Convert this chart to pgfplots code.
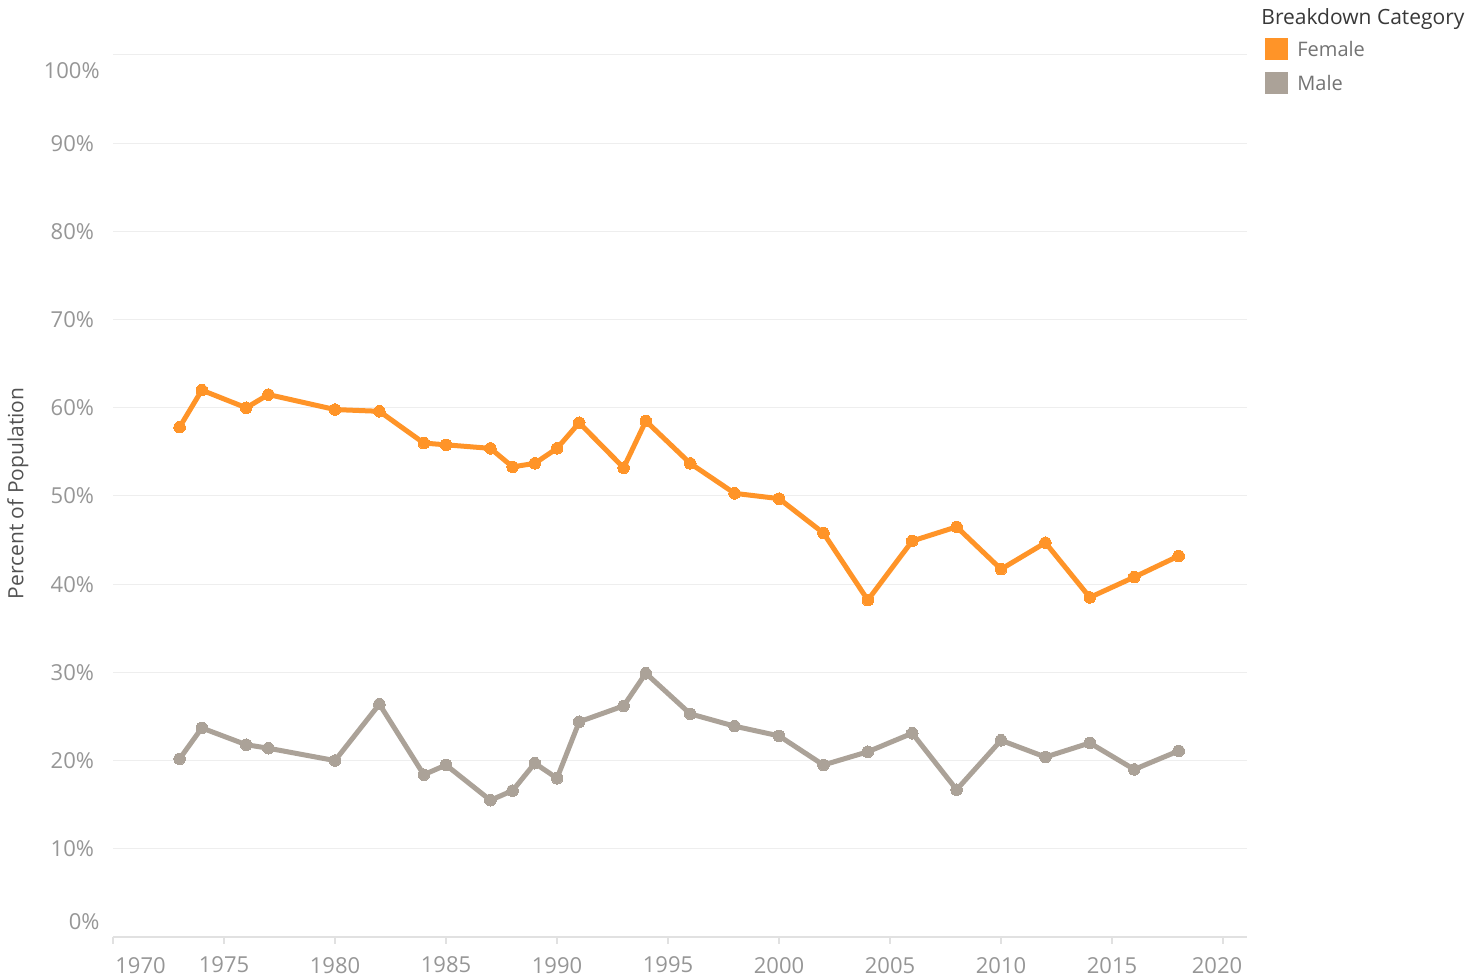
\documentclass[border=0pt]{standalone}
\usepackage{pgfplots}
\pgfplotsset{compat=1.18}
\usepackage{fontspec}
\setmainfont{Open Sans}
\definecolor{femc}{RGB}{255,148,40}
\definecolor{malec}{RGB}{171,162,152}
\definecolor{tickc}{RGB}{150,150,150}
\definecolor{gridc}{RGB}{238,238,238}
\definecolor{axc}{RGB}{225,225,225}
\begin{document}
\begin{tikzpicture}
\useasboundingbox (0,0) rectangle (740pt,489pt);
\begin{axis}[
  at={(56.5pt,20.5pt)}, anchor=south west,
  scale only axis, width=567pt, height=441pt,
  xmin=1970, xmax=2021.08, ymin=0, ymax=100,
  clip=false,
  axis x line*=bottom, axis y line*=left,
  x axis line style={draw=axc, line width=0.6pt, -},
  y axis line style={draw=none},
  xtick={1970,1975,...,2020},
  xticklabels={,1975,1980,1985,1990,1995,2000,2005,2010,2015,},
  x tick style={draw=axc, line width=0.6pt},
  tick align=outside, major tick length=3.5pt,
  ytick={0,10,...,100},
  yticklabels={,10\%,20\%,30\%,40\%,50\%,60\%,70\%,80\%,90\%,},
  y tick style={draw=none},
  ymajorgrids, grid style={draw=gridc, line width=0.5pt},
  tick label style={font=\fontsize{11}{13}\selectfont, text=tickc},
  /pgf/number format/assume math mode=true,
  xticklabel style={yshift=-3pt},
  yticklabel style={xshift=-2.5pt},
  ylabel={Percent of Population},
  ylabel style={at={(axis description cs:-0.0838,0.503)}, anchor=center, rotate=0,
    font=\fontsize{10.5}{12}\selectfont, text=black!68},
  every axis plot/.append style={line width=2.5pt, mark=*, mark size=2.9pt, line join=round},
]
\addplot[color=femc, mark options={fill=femc, draw=femc, line width=0pt}] coordinates {
(1973,57.8)(1974,62.0)(1976,60.0)(1977,61.5)(1980,59.8)(1982,59.6)(1984,56.0)(1985,55.8)
(1987,55.4)(1988,53.3)(1989,53.7)(1990,55.4)(1991,58.3)(1993,53.2)(1994,58.5)(1996,53.7)
(1998,50.3)(2000,49.7)(2002,45.8)(2004,38.2)(2006,44.9)(2008,46.5)(2010,41.7)(2012,44.7)
(2014,38.5)(2016,40.8)(2018,43.2)};
\addplot[color=malec, mark options={fill=malec, draw=malec, line width=0pt}] coordinates {
(1973,20.2)(1974,23.7)(1976,21.8)(1977,21.4)(1980,20.0)(1982,26.4)(1984,18.4)(1985,19.5)
(1987,15.5)(1988,16.6)(1989,19.7)(1990,18.0)(1991,24.4)(1993,26.2)(1994,29.9)(1996,25.3)
(1998,23.9)(2000,22.8)(2002,19.5)(2004,21.0)(2006,23.1)(2008,16.7)(2010,22.3)(2012,20.4)
(2014,22.0)(2016,19.0)(2018,21.1)};
% shifted end labels (Tableau style)
\node[anchor=east, font=\fontsize{11}{13}\selectfont, text=tickc, inner sep=0pt] at ([xshift=-6.5pt]axis cs:1970,1.7) {0\%};
\node[anchor=east, font=\fontsize{11}{13}\selectfont, text=tickc, inner sep=0pt] at ([xshift=-6.5pt]axis cs:1970,98.2) {100\%};
\node[anchor=west, font=\fontsize{11}{13}\selectfont, text=tickc, inner sep=0pt] at ([xshift=1pt,yshift=-14.5pt]axis cs:1970,0) {1970};
\node[anchor=center, font=\fontsize{11}{13}\selectfont, text=tickc, inner sep=0pt] at ([xshift=-3pt,yshift=-14.5pt]axis cs:2020,0) {2020};
\end{axis}
% legend
\node[anchor=west, font=\fontsize{10.5}{12}\selectfont, text=black!78, inner sep=0pt] at (630.5pt,479.5pt) {Breakdown Category};
\fill[femc] (632.5pt,470pt) rectangle (644pt,459pt);
\node[anchor=west, font=\fontsize{10}{12}\selectfont, text=black!55, inner sep=0pt] at (648.5pt,464.5pt) {Female};
\fill[malec] (632.5pt,453pt) rectangle (644pt,442pt);
\node[anchor=west, font=\fontsize{10}{12}\selectfont, text=black!55, inner sep=0pt] at (648.5pt,447.5pt) {Male};
\end{tikzpicture}
\end{document}
